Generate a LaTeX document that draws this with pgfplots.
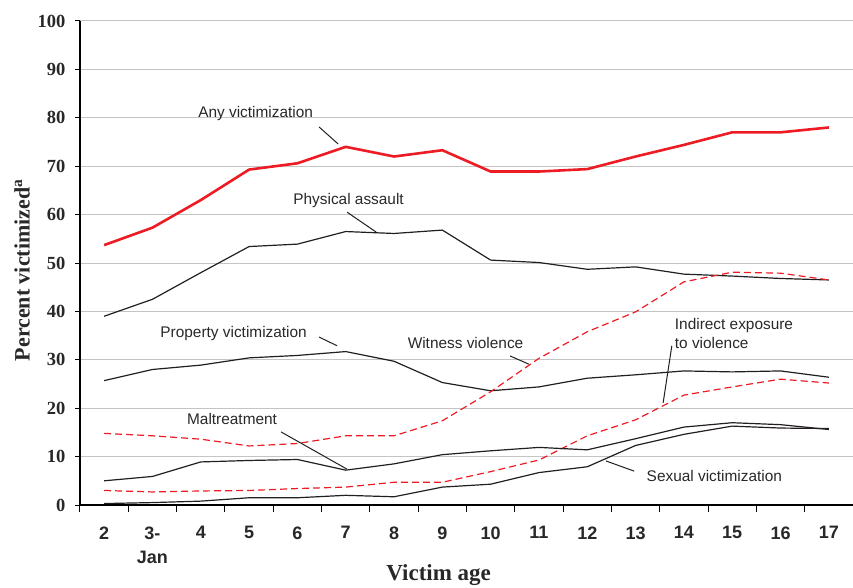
\documentclass[border=0pt]{standalone}
\usepackage{fontspec}
\setmainfont{Liberation Serif}
\newfontfamily\arial{Liberation Sans}
\usepackage{pgfplots}
\pgfplotsset{compat=1.18}
\definecolor{vred}{RGB}{237,28,36}
\definecolor{ink}{RGB}{35,31,32}
\definecolor{gridc}{RGB}{196,196,196}
\definecolor{txt}{RGB}{40,40,40}
\begin{document}
\begin{tikzpicture}
\useasboundingbox (-80pt,-82pt) rectangle (773pt,505pt);
\begin{axis}[
  scale only axis, width=773pt, height=484pt,
  xmin=1.5, xmax=17.5, ymin=0, ymax=100,
  axis x line=bottom, axis y line=left,
  axis line style={-, line width=2pt, black},
  clip=false,
  ytick={0,10,...,100},
  ymajorgrids, grid style={gridc, line width=1pt},
  xtick={2,3,...,17},
  xticklabels={2,{3-\\Jan},4,5,6,7,8,9,10,11,12,13,14,15,16,17},
  minor xtick={1.5,2.5,...,17.5},
  tick align=outside,
  major x tick style={draw=none},
  minor tick length=7pt,
  major tick length=5pt,
  tick style={black, line width=1pt},
  /pgf/number format/assume math mode=true,
  yticklabel style={font=\bfseries\fontsize{18.5}{18.5}\selectfont, text=txt, xshift=-6pt},
  xticklabel style={font=\arial\bfseries\fontsize{18}{24}\selectfont, text=txt, align=center, yshift=-13pt},
  xlabel={Victim age},
  ylabel={Percent victimized\textsuperscript{a}},
  xlabel style={font=\bfseries\fontsize{23}{23}\selectfont, text=txt, at={(axis description cs:0.464,-0.145)}, anchor=center},
  ylabel style={font=\bfseries\fontsize{22}{22}\selectfont, text=txt, at={(axis description cs:-0.075,0.485)}, anchor=center},
]
% Any victimization
\addplot[vred, line width=2.6pt] coordinates {(2,53.7)(3,57.3)(4,63.0)(5,69.3)(6,70.6)(7,74.0)(8,72.0)(9,73.3)(10,68.9)(11,68.9)(12,69.4)(13,72.0)(14,74.4)(15,77.0)(16,77.0)(17,78.0)};
% Physical assault
\addplot[ink, line width=1.2pt] coordinates {(2,39.0)(3,42.5)(4,48.0)(5,53.4)(6,53.9)(7,56.5)(8,56.1)(9,56.8)(10,50.6)(11,50.1)(12,48.7)(13,49.2)(14,47.7)(15,47.3)(16,46.8)(17,46.5)};
% Property victimization
\addplot[ink, line width=1.2pt] coordinates {(2,25.7)(3,28.0)(4,28.9)(5,30.4)(6,30.9)(7,31.7)(8,29.7)(9,25.3)(10,23.6)(11,24.4)(12,26.2)(13,26.9)(14,27.7)(15,27.5)(16,27.7)(17,26.4)};
% Witness violence
\addplot[vred, line width=1.2pt, dash pattern=on 7pt off 4pt] coordinates {(2,14.8)(3,14.3)(4,13.6)(5,12.2)(6,12.7)(7,14.3)(8,14.3)(9,17.4)(10,23.4)(11,30.3)(12,35.8)(13,39.9)(14,46.1)(15,48.1)(16,47.9)(17,46.5)};
% Indirect exposure
\addplot[vred, line width=1.2pt, dash pattern=on 7pt off 4pt] coordinates {(2,3.0)(3,2.7)(4,2.9)(5,3.0)(6,3.4)(7,3.7)(8,4.7)(9,4.7)(10,6.9)(11,9.3)(12,14.3)(13,17.6)(14,22.7)(15,24.4)(16,26.0)(17,25.2)};
% Maltreatment
\addplot[ink, line width=1.2pt] coordinates {(2,5.0)(3,5.9)(4,8.9)(5,9.2)(6,9.4)(7,7.2)(8,8.5)(9,10.4)(10,11.2)(11,11.9)(12,11.4)(13,13.7)(14,16.1)(15,17.0)(16,16.6)(17,15.6)};
% Sexual victimization
\addplot[ink, line width=1.2pt] coordinates {(2,0.3)(3,0.5)(4,0.8)(5,1.5)(6,1.5)(7,2.0)(8,1.7)(9,3.7)(10,4.3)(11,6.7)(12,7.9)(13,12.3)(14,14.6)(15,16.3)(16,15.9)(17,15.8)};
% labels
\tikzset{lab/.style={font=\arial\fontsize{15.4}{19}\selectfont, text=txt, inner sep=0pt}}
\node[lab] at (axis cs:5.135,80.8) {Any victimization};
\draw[ink, line width=1pt] (axis cs:6.449,78.1) -- (axis cs:6.842,74.6);
\node[lab] at (axis cs:7.059,63.0) {Physical assault};
\draw[ink, line width=1pt] (axis cs:7.028,60.5) -- (axis cs:7.628,56.4);
\node[lab] at (axis cs:4.680,35.5) {Property victimization};
\draw[ink, line width=1pt] (axis cs:6.449,34.7) -- (axis cs:6.821,32.9);
\node[lab] at (axis cs:9.480,33.5) {Witness violence};
\draw[ink, line width=1pt] (axis cs:10.40,30.8) -- (axis cs:10.79,29.1);
\node[lab, anchor=west, align=left] at (axis cs:13.81,35.4) {Indirect exposure\\to violence};
\draw[ink, line width=1pt] (axis cs:13.75,32.9) -- (axis cs:13.57,21.1);
\node[lab] at (axis cs:4.648,17.8) {Maltreatment};
\draw[ink, line width=1pt] (axis cs:5.662,15.1) -- (axis cs:7.028,7.4);
\node[lab] at (axis cs:14.63,6.0) {Sexual victimization};
\draw[ink, line width=1pt] (axis cs:12.387,9.1) -- (axis cs:12.97,7.0);
\end{axis}
\end{tikzpicture}
\end{document}
